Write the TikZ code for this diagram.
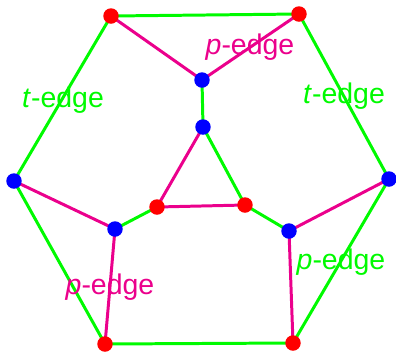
\documentclass[tikz,border=0pt]{standalone}
\usepackage{fontspec}
\setmainfont{Liberation Sans}
\definecolor{tgreen}{RGB}{0,250,0}
\definecolor{pmagenta}{RGB}{235,0,140}
\usetikzlibrary{positioning}

\begin{document}
\begin{tikzpicture}[
    x=0.02cm, y=-0.02cm,
    rv/.style={circle, fill=red, inner sep=0pt, minimum size=0.31cm},
    bv/.style={circle, fill=blue, inner sep=0pt, minimum size=0.31cm},
    tedge/.style={draw=tgreen, line width=1.7pt},
    pedge/.style={draw=pmagenta, line width=1.7pt},
    lbl/.style={anchor=base, font=\fontsize{16.2}{19}\selectfont, inner sep=0pt}
]
  \useasboundingbox (0,0) rectangle (396,353);

  % outer ring
  \coordinate (tl) at (111,16);
  \coordinate (tr) at (299,14);
  \coordinate (l) at (14,181);
  \coordinate (r) at (389,179);
  \coordinate (bl) at (105,344);
  \coordinate (br) at (293,343);
  % inner
  \coordinate (ct) at (202,80);
  \coordinate (c) at (203,127);
  \coordinate (cl) at (157,207);
  \coordinate (cr) at (245,205);
  \coordinate (ll) at (115,229);
  \coordinate (lr) at (289,231);

  % t-edges
  \draw[tedge] (tl) -- (tr);
  \draw[tedge] (tl) -- (l);
  \draw[tedge] (tr) -- (r);
  \draw[tedge] (l) -- (bl);
  \draw[tedge] (r) -- (br);
  \draw[tedge] (bl) -- (br);
  \draw[tedge] (ct) -- (c);
  \draw[tedge] (c) -- (cr);
  \draw[tedge] (cl) -- (ll);
  \draw[tedge] (cr) -- (lr);

  % p-edges
  \draw[pedge] (tl) -- (ct);
  \draw[pedge] (tr) -- (ct);
  \draw[pedge] (c) -- (cl);
  \draw[pedge] (cl) -- (cr);
  \draw[pedge] (l) -- (ll);
  \draw[pedge] (ll) -- (bl);
  \draw[pedge] (r) -- (lr);
  \draw[pedge] (lr) -- (br);

  % vertices
  \foreach \v in {tl,tr,cl,cr,bl,br} \node[rv] (n\v) at (\v) {};
  \foreach \v in {l,r,ct,c,ll,lr} \node[bv] (n\v) at (\v) {};

  % labels
  \node[lbl, text=tgreen] (tleft) at (63,107) {\textit{t}-edge};
  \node[lbl, text=tgreen] (tright) at (344,103) {\textit{t}-edge};
  \node[lbl, text=pmagenta] (ptop) at (250,54) {\textit{p}-edge};
  \node[lbl, text=tgreen] (pright) at (341,269) {\textit{p}-edge};
  \node[lbl, text=pmagenta] (pleft) at (110,294) {\textit{p}-edge};
\end{tikzpicture}
\end{document}
